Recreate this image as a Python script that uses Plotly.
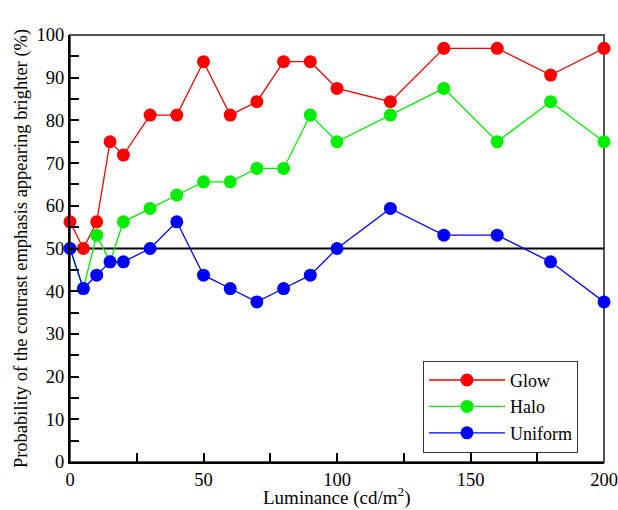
import plotly.graph_objects as go

luminance = [0, 5, 10, 15, 20, 30, 40, 50, 60, 70, 80, 90, 100, 120, 140, 160, 180, 200]
glow = [56.25, 50, 56.25, 75, 71.875, 81.25, 81.25, 93.75, 81.25, 84.375, 93.75, 93.75, 87.5, 84.375, 96.875, 96.875, 90.625, 96.875]
halo = [50, 40.625, 53.125, 46.875, 56.25, 59.375, 62.5, 65.625, 65.625, 68.75, 68.75, 81.25, 75, 81.25, 87.5, 75, 84.375, 75]
uniform = [50, 40.625, 43.75, 46.875, 46.875, 50, 56.25, 43.75, 40.625, 37.5, 40.625, 43.75, 50, 59.375, 53.125, 53.125, 46.875, 37.5]
series_names = ["Glow", "Halo", "Uniform"]
colors = ["#ff0000", "#00ee00", "#0000ff"]
x_ticks = [0, 50, 100, 150, 200]
y_ticks = [0, 10, 20, 30, 40, 50, 60, 70, 80, 90, 100]
x_title = "Luminance (cd/m<sup>2</sup>)"
y_title = "Probability of the contrast emphasis appearing brighter (%)"

font_family = "Liberation Serif"

fig = go.Figure()
for name, vals, col in zip(series_names, [glow, halo, uniform], colors):
    fig.add_trace(go.Scatter(
        x=luminance, y=vals, name=name, mode="lines+markers",
        line=dict(color=col, width=1.3),
        marker=dict(color=col, size=13),
        cliponaxis=False,
    ))

fig.add_shape(type="rect", xref="paper", yref="paper", x0=0, y0=0, x1=1, y1=1,
              line=dict(color="#555555", width=2), layer="below")
fig.add_shape(type="line", xref="x", yref="y", x0=0, x1=200, y0=50, y1=50,
              line=dict(color="black", width=2), layer="below")

fig.add_annotation(text=x_title, xref="paper", yref="paper", x=0.5, y=0,
                   xanchor="center", yanchor="top", yshift=-20, showarrow=False,
                   font=dict(size=19, family=font_family, color="black"))

fig.update_layout(
    width=618, height=510,
    margin=dict(l=70, r=14, t=35, b=48),
    paper_bgcolor="white", plot_bgcolor="white",
    font=dict(family=font_family, size=18, color="black"),
    showlegend=True,
    legend=dict(
        x=0.661, y=0.237, xanchor="left", yanchor="top",
        bordercolor="#333333", borderwidth=1, bgcolor="white",
        font=dict(size=18, family=font_family),
        itemwidth=76, tracegroupgap=0,
    ),
    xaxis=dict(
        range=[0, 200], tickvals=x_ticks, ticks="inside", ticklen=9, tickwidth=1.5,
        tickcolor="black", showline=True, linecolor="black", linewidth=2,
        showgrid=False, zeroline=False, automargin=False,
        minor=dict(dtick=25, ticks="inside", ticklen=9, tickwidth=1.5, tickcolor="black"),
        tickfont=dict(size=18.5, family=font_family),
    ),
    yaxis=dict(
        range=[0, 100], tickvals=y_ticks, ticks="inside", ticklen=9, tickwidth=1.5,
        tickcolor="black", showline=True, linecolor="black", linewidth=2,
        showgrid=False, zeroline=False, automargin=False,
        minor=dict(dtick=5, ticks="inside", ticklen=9, tickwidth=1.5, tickcolor="black"),
        title=dict(text=y_title, font=dict(size=18.5, family=font_family), standoff=4),
        tickfont=dict(size=18.5, family=font_family),
    ),
)

fig.write_html("out.html")
